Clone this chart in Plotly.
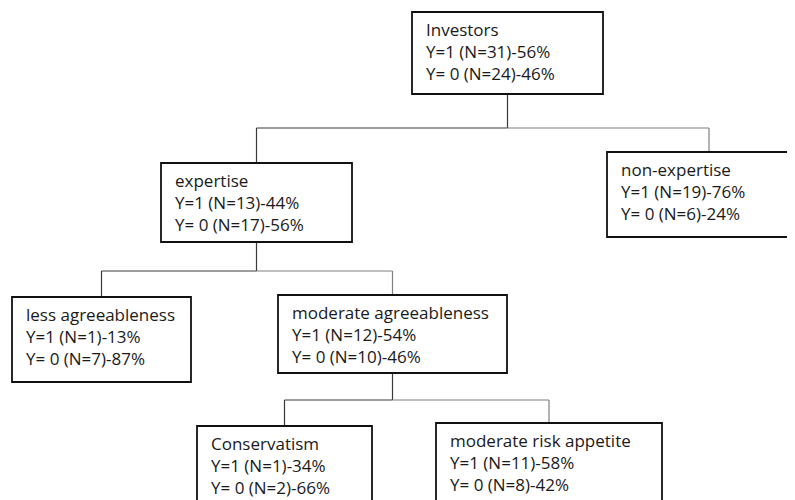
import plotly.graph_objects as go

# ---- data ----
labels = ["Investors", "expertise", "non-expertise", "less agreeableness",
          "moderate agreeableness", "Conservatism", "moderate risk appetite"]
n_y1 = [31, 13, 19, 1, 12, 1, 11]
pct_y1 = [56, 44, 76, 13, 54, 34, 58]
n_y0 = [24, 17, 6, 7, 10, 2, 8]
pct_y0 = [46, 56, 24, 87, 46, 66, 42]
parent = [None, 0, 0, 1, 1, 4, 4]

# ---- layout geometry (pixel space) ----
boxes = [(412, 603, 12, 94), (161, 352, 163, 242), (607, 794, 152, 237),
         (12, 191, 297, 382), (278, 507, 295, 373), (197, 372, 426, 530),
         (436, 662, 423, 530)]
stem_x_override = {2: 709}
split_y = {0: 128, 1: 271, 4: 400}

W, H = 795, 500
OFF = 8  # page body margin
fig = go.Figure()
shapes = []
annotations = []


def cx(i):
    if i in stem_x_override:
        return stem_x_override[i]
    l, r, t, b = boxes[i]
    return (l + r) / 2


dark = "#3a3a3a"
light = "#808080"

for p, sy in split_y.items():
    px = cx(p)
    shapes.append(dict(type="line", x0=px, x1=px, y0=boxes[p][3], y1=sy,
                       line=dict(color=dark, width=1.2)))
    kids = [i for i, q in enumerate(parent) if q == p]
    for k in kids:
        kx = cx(k)
        col = dark if kx < px else light
        shapes.append(dict(type="line", x0=px, x1=kx, y0=sy, y1=sy,
                           line=dict(color=col, width=1.2)))
        shapes.append(dict(type="line", x0=kx, x1=kx, y0=sy, y1=boxes[k][2],
                           line=dict(color=col, width=1.2)))

for i, lab in enumerate(labels):
    l, r, t, b = boxes[i]
    shapes.append(dict(type="rect", x0=l, x1=r, y0=t, y1=b,
                       line=dict(color="#111111", width=1.8),
                       fillcolor="white"))
    lines = [lab,
             f"Y=1 (N={n_y1[i]})-{pct_y1[i]}%",
             f"Y= 0 (N={n_y0[i]})-{pct_y0[i]}%"]
    for j, txt in enumerate(lines):
        annotations.append(dict(x=l + 12, y=t + 17 + 22 * j, text=txt,
                                xref="x", yref="y", xanchor="left",
                                yanchor="middle", showarrow=False,
                                font=dict(family="Open Sans", size=17,
                                          color="#1a1a1a")))

fig.update_layout(
    width=W, height=H,
    margin=dict(l=0, r=0, t=0, b=0),
    paper_bgcolor="white", plot_bgcolor="white",
    xaxis=dict(range=[OFF, W + OFF], visible=False, fixedrange=True),
    yaxis=dict(range=[H + OFF, OFF], visible=False, fixedrange=True),
    shapes=shapes, annotations=annotations, showlegend=False,
)
fig.write_html("out.html")
